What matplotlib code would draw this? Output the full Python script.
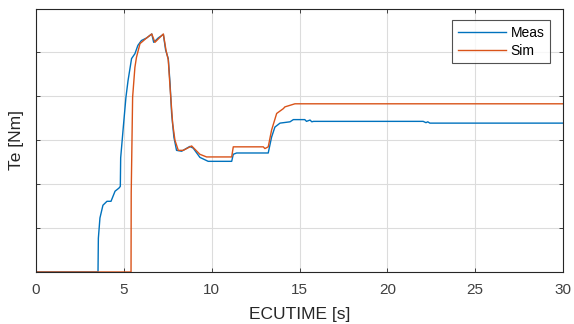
import matplotlib
matplotlib.use("Agg")
import matplotlib.pyplot as plt

plt.rcParams['font.family'] = ['Liberation Sans', 'DejaVu Sans']

# Measured torque (blue)
meas_t = [0, 3.53, 3.55, 3.64, 3.81, 4.04, 4.27, 4.5, 4.72, 4.8, 4.82, 4.97, 5.12, 5.24,
          5.44, 5.63, 5.8, 6.0, 6.3, 6.59, 6.7, 6.96, 7.25, 7.38, 7.53, 7.63, 7.72, 7.85,
          8.0, 8.29, 8.76, 8.95, 9.33, 9.8, 11.14, 11.23, 11.42, 13.22, 13.41, 13.6, 13.89,
          14.46, 14.65, 15.3, 15.4, 15.6, 15.7, 15.8, 22.04, 22.2, 22.3, 22.42, 30.0]
meas_v = [0, 0, 0.77, 1.23, 1.52, 1.61, 1.61, 1.84, 1.91, 1.95, 2.6, 3.3, 3.98, 4.36,
          4.86, 4.97, 5.16, 5.27, 5.33, 5.42, 5.23, 5.33, 5.41, 5.05, 4.86, 4.3, 3.61, 3.07,
          2.77, 2.75, 2.86, 2.82, 2.61, 2.52, 2.52, 2.68, 2.71, 2.71, 3.07, 3.3, 3.39,
          3.42, 3.47, 3.47, 3.43, 3.46, 3.42, 3.43, 3.43, 3.40, 3.42, 3.39, 3.39]

# Simulated torque (orange)
sim_t = [0, 5.41, 5.42, 5.5, 5.63, 5.72, 5.92, 6.3, 6.59, 6.77, 7.25, 7.4, 7.53, 7.63,
         7.78, 7.91, 8.1, 8.38, 8.86, 9.33, 9.71, 11.14, 11.23, 12.94, 13.03, 13.22, 13.41,
         13.7, 14.08, 14.17, 14.74, 30.0]
sim_v = [0, 0, 1.8, 3.98, 4.66, 4.89, 5.2, 5.33, 5.42, 5.23, 5.42, 5.05, 4.83, 4.21,
         3.38, 3.0, 2.77, 2.77, 2.87, 2.68, 2.62, 2.62, 2.85, 2.85, 2.81, 2.85, 3.23,
         3.61, 3.72, 3.76, 3.83, 3.83]

x_ticks = [0, 5, 10, 15, 20, 25, 30]
y_ticks = [0, 1, 2, 3, 4, 5, 6]

fig = plt.figure(figsize=(5.74, 3.24), dpi=100)
ax = fig.add_axes([36/574, 52/324, (563-36)/574, (272-8.5)/324])

ax.plot(meas_t, meas_v, color='#0072BD', lw=1.0, label='Meas')
ax.plot(sim_t, sim_v, color='#D95319', lw=1.0, label='Sim')

ax.set_xlim(0, 30)
ax.set_ylim(0, 6)
ax.set_xticks(x_ticks)
ax.set_yticks(y_ticks)
ax.set_yticklabels([])
ax.grid(True, color='#dcdcdc', lw=0.8)
ax.set_axisbelow(True)
ax.tick_params(direction='in', length=3, width=0.6, colors='#262626',
               labelsize=11, top=True, right=True, pad=8)
ax.tick_params(axis='x', labelcolor='#404040')
for s in ax.spines.values():
    s.set_color('#262626')
    s.set_linewidth(0.8)

ax.set_xlabel('ECUTIME [s]', fontsize=12.5, color='#262626', labelpad=7)
ax.set_ylabel('Te [Nm]', fontsize=12.5, color='#262626')
ax.yaxis.set_label_coords(-0.022, 0.5)

leg = ax.legend(loc='upper right', bbox_to_anchor=(550/574, 1 - 20/324),
                bbox_transform=fig.transFigure, fontsize=10, frameon=True,
                fancybox=False, edgecolor='#262626', handlelength=3.5,
                handletextpad=0.3, borderpad=0.4, labelspacing=0.3,
                borderaxespad=0)
leg.get_frame().set_linewidth(0.8)

fig.savefig('out.png', dpi=100)
